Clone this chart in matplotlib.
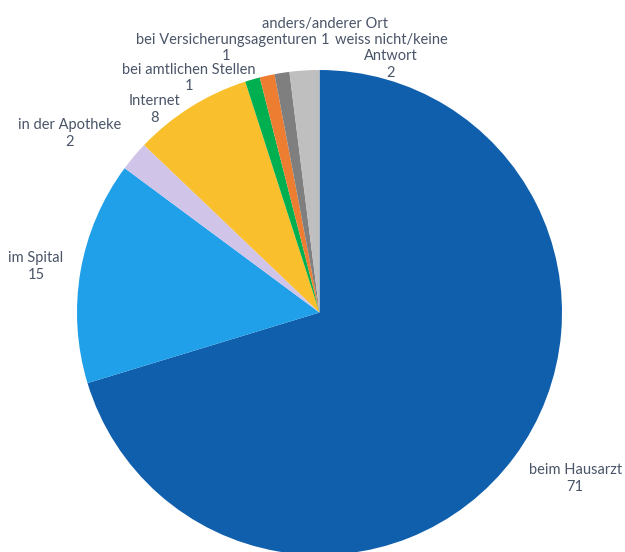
import matplotlib
matplotlib.use("Agg")
import matplotlib.pyplot as plt
import numpy as np

categories = ["beim Hausarzt", "im Spital", "in der Apotheke", "Internet",
              "bei amtlichen Stellen", "bei Versicherungsagenturen",
              "anders/anderer Ort", "weiss nicht/keine\nAntwort"]
values = [71, 15, 2, 8, 1, 1, 1, 2]
colors = ["#0F5FAD", "#1FA0E8", "#D1C4E9", "#F9BF2C", "#00B050", "#ED7D31",
          "#7F7F7F", "#BFBFBF"]

# label anchor positions (data units, pie radius = 1)
label_pos = [(1.054, -0.685), (-1.169, 0.19), (-1.029, 0.738), (-0.682, 0.837),
             (-0.538, 0.967), (-0.386, 1.091), (0.023, 1.157), (0.295, 1.056)]

W, H = 625, 552
fig = plt.figure(figsize=(W / 100, H / 100), dpi=100)
cx, cy, r = 319.5, 312.5, 242.5
ax = fig.add_axes([(cx - r) / W, (H - cy - r) / H, 2 * r / W, 2 * r / H])
ax.pie(values, colors=colors, startangle=90, counterclock=False, radius=1,
       wedgeprops=dict(linewidth=0))
ax.set_xlim(-1, 1)
ax.set_ylim(-1, 1)
ax.set_aspect("equal")
ax.axis("off")

for cat, val, (x, y) in zip(categories, values, label_pos):
    ax.text(x, y, f"{cat}\n{val}", ha="center", va="center", multialignment="center",
            fontsize=10.5, color="#4A5568", family=["Lato", "DejaVu Sans"],
            linespacing=1.25, clip_on=False)

fig.savefig("out.png", dpi=100)
